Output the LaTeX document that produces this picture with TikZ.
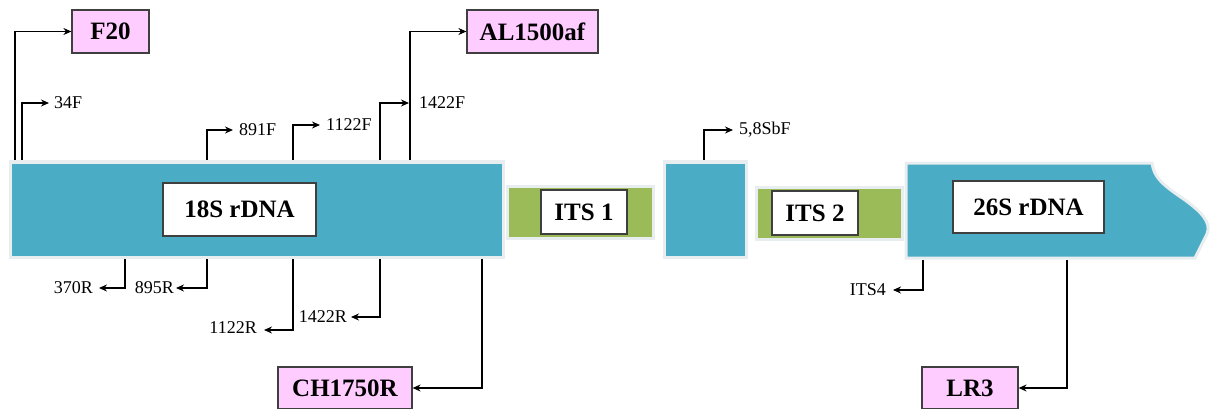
\documentclass[tikz,border=0pt]{standalone}
\usepackage{fontspec}
\setmainfont{Liberation Serif}
\usetikzlibrary{arrows.meta}
\definecolor{teal1}{HTML}{4BACC6}
\definecolor{green1}{HTML}{9BBB59}
\definecolor{pink1}{HTML}{FFCCFF}
\definecolor{edge1}{HTML}{E8EEF0}
\definecolor{dark1}{HTML}{3F3F3F}
\begin{document}
\begin{tikzpicture}[x=1pt,y=-1pt,
  block/.style={draw=edge1,line width=3pt},
  lbl/.style={draw=dark1,fill=white,line width=1.2pt,font=\fontsize{25}{28}\selectfont\bfseries,inner sep=0pt},
  primer/.style={draw=dark1,fill=pink1,line width=1.2pt,font=\fontsize{25}{28}\selectfont\bfseries,inner sep=0pt},
  pl/.style={font=\fontsize{18}{20}\selectfont,inner sep=1pt},
  arr/.style={line width=1.5pt,-{Stealth[length=8pt,width=7pt]}},
  longarr/.style={line width=1.2pt,-{Stealth[length=8pt,width=7pt]}}]
\useasboundingbox (0,0) rectangle (1210,409);
% blocks
\fill[teal1,block] (10,162) rectangle (503,257);
\fill[green1,block] (507,186) rectangle (653,238);
\fill[teal1,block] (664,162) rectangle (746,257);
\fill[green1,block] (756,187) rectangle (902,239);
\fill[teal1,block] (906,163) -- (1152,163) .. controls (1154,178) and (1163,185) .. (1185,200) .. controls (1200,211) and (1212,222) .. (1207,234) -- (1195,258) -- (906,258) -- cycle;
% labels
\node[lbl,minimum width=153pt,minimum height=53pt] (s18) at (239.5,209.5) {18S rDNA};
\node[lbl,minimum width=86pt,minimum height=44pt] (its1) at (584,212) {ITS 1};
\node[lbl,minimum width=86pt,minimum height=44pt] (its2) at (815,213) {ITS 2};
\node[lbl,minimum width=151pt,minimum height=52pt] (s26) at (1028.5,207) {26S rDNA};
% primer boxes
\node[primer,minimum width=77pt,minimum height=43pt] (f20) at (110.5,31.5) {F20};
\node[primer,minimum width=131pt,minimum height=43pt] (al) at (532.5,31.5) {AL1500af};
\node[primer,minimum width=134pt,minimum height=42pt] (ch) at (345,388) {CH1750R};
\node[primer,minimum width=96pt,minimum height=42pt] (lr3) at (970,388) {LR3};
% start coordinates
\coordinate (pF20) at (15,160);
\coordinate (p34) at (22,160);
\coordinate (p891) at (207,160);
\coordinate (p1122f) at (293,160);
\coordinate (p1422f) at (380,160);
\coordinate (pAL) at (410,160);
\coordinate (p58) at (704,160);
\coordinate (p370) at (125,259);
\coordinate (p895) at (207,259);
\coordinate (p1122r) at (293,259);
\coordinate (p1422r) at (380,259);
\coordinate (pCH) at (482,259);
\coordinate (pITS4) at (923,260);
\coordinate (pLR3) at (1067,260);
% tips
\coordinate (t34) at (49,103);
\coordinate (t891) at (233,130);
\coordinate (t1122f) at (320,125);
\coordinate (t1422f) at (409,103);
\coordinate (t58) at (733,130);
\coordinate (t370) at (99,288);
\coordinate (t895) at (176,288);
\coordinate (t1122r) at (264,330);
\coordinate (t1422r) at (351,317);
\coordinate (tITS4) at (893,290);
% forward arrows
\draw[longarr] (pF20) |- (f20.west);
\draw[longarr] (pAL) |- (al.west);
\draw[arr] (p34) |- (t34);
\draw[arr] (p891) |- (t891);
\draw[arr] (p1122f) |- (t1122f);
\draw[arr] (p1422f) |- (t1422f);
\draw[arr] (p58) |- (t58);
% reverse arrows
\draw[arr] (p370) |- (t370);
\draw[arr] (p895) |- (t895);
\draw[arr] (p1122r) |- (t1122r);
\draw[arr] (p1422r) |- (t1422r);
\draw[arr] (pITS4) |- (tITS4);
\draw[longarr] (pCH) |- (ch.east);
\draw[longarr] (pLR3) |- (lr3.east);
% primer labels
\node[pl,anchor=west] (l34) at ([xshift=4pt]t34) {34F};
\node[pl,anchor=west] (l891) at ([xshift=5pt]t891) {891F};
\node[pl,anchor=west] (l1122f) at ([xshift=5pt]t1122f) {1122F};
\node[pl,anchor=west] (l1422f) at ([xshift=9pt]t1422f) {1422F};
\node[pl,anchor=west] (l58) at ([xshift=5pt]t58) {5,8SbF};
\node[pl,anchor=east] (l370) at ([xshift=-5pt]t370) {370R};
\node[pl,anchor=east] (l895) at ([xshift=-1pt]t895) {895R};
\node[pl,anchor=east] (l1122r) at ([xshift=-6pt,yshift=2pt]t1122r) {1122R};
\node[pl,anchor=east] (l1422r) at ([xshift=-3pt]t1422r) {1422R};
\node[pl,anchor=east] (lITS4) at ([xshift=-6pt]tITS4) {ITS4};
\end{tikzpicture}
\end{document}
